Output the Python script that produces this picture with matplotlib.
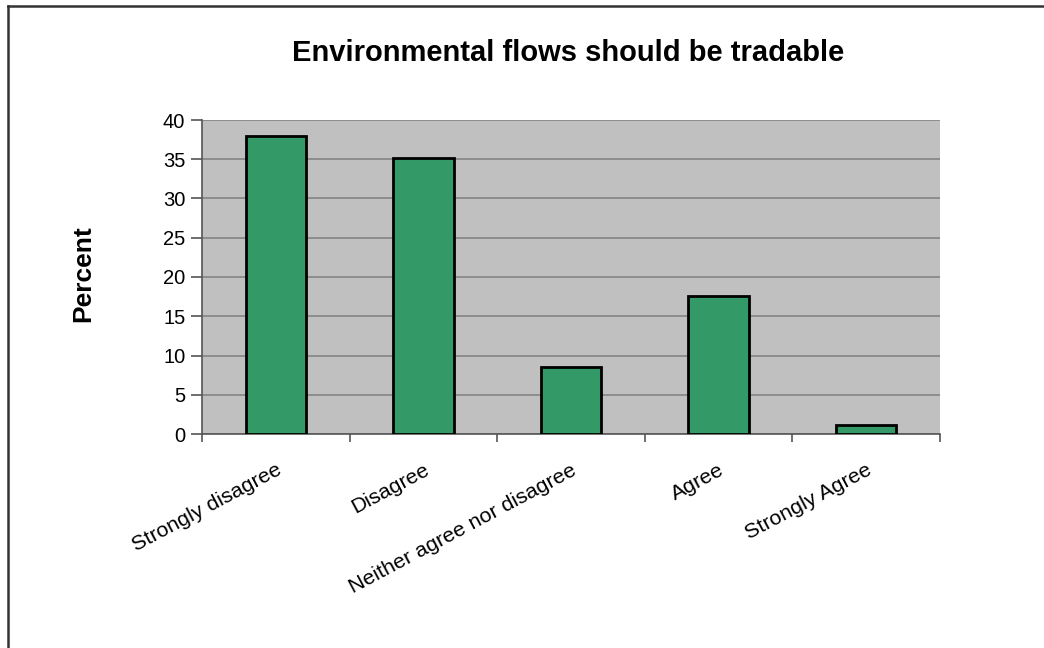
import numpy as np
import matplotlib
matplotlib.use("Agg")
import matplotlib.pyplot as plt
from matplotlib.lines import Line2D

plt.rcParams['font.family'] = ['Liberation Sans', 'DejaVu Sans']

# data
categories = ['Strongly disagree', 'Disagree', 'Neither agree nor disagree', 'Agree', 'Strongly Agree']
percent    = [38.0, 35.2, 8.5, 17.6, 1.1]
title      = 'Environmental flows should be tradable'
ylabel     = 'Percent'
yticks     = [0, 5, 10, 15, 20, 25, 30, 35, 40]

W, H = 1044, 648
fig = plt.figure(figsize=(W / 100, H / 100), dpi=100)
ax = fig.add_axes([202 / W, 1 - 434 / H, (940 - 202) / W, (434 - 120) / H])

x = np.arange(len(categories))
ax.bar(x, percent, width=0.41, color='#339966', edgecolor='black', linewidth=2, zorder=3)

ax.set_facecolor('#c0c0c0')
ax.set_xlim(-0.5, len(categories) - 0.5)
ax.set_ylim(0, 40)
ax.set_yticks(yticks)
ax.yaxis.grid(True, color='#808080', linewidth=1.1, zorder=1)
ax.set_axisbelow(True)

for s in ['top', 'right']:
    ax.spines[s].set_visible(False)
for s in ['left', 'bottom']:
    ax.spines[s].set_color('#555555')
    ax.spines[s].set_linewidth(1.2)

# ticks between categories on x, labels at centres
ax.set_xticks(np.arange(-0.5, len(categories)), minor=False)
ax.set_xticklabels([])
ax.set_xticks(x, minor=True)
ax.set_xticklabels(categories, minor=True, rotation=28, ha='right', va='top',
                   rotation_mode='anchor', fontsize=15.4)
ax.tick_params(axis='x', which='minor', length=0, pad=19)
ax.tick_params(axis='x', which='major', length=6, width=1.2, color='#555555')
ax.tick_params(axis='y', length=8, width=1.2, color='#555555', labelsize=14.5, pad=4)

fig.text(83 / W, 1 - 274 / H, ylabel, rotation=90, ha='center', va='center',
         fontsize=19, fontweight='bold')
fig.text(568 / W, 1 - 53 / H, title, ha='center', va='center',
         fontsize=21, fontweight='bold')

# chart border (top and left visible)
fig.add_artist(Line2D([8 / W, 8 / W], [0, 1 - 6 / H], color='#333333', linewidth=1.8))
fig.add_artist(Line2D([8 / W, 1], [1 - 6 / H, 1 - 6 / H], color='#333333', linewidth=1.8))

fig.savefig('out.png', dpi=100)
